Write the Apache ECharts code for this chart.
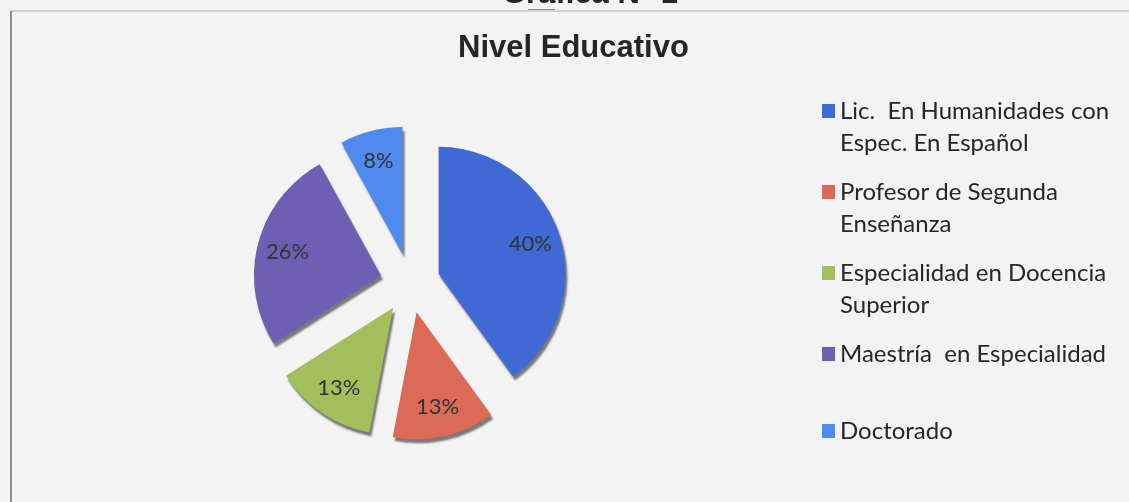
<!DOCTYPE html>
<html>
<head>
<meta charset="utf-8">
<script src="https://cdn.jsdelivr.net/npm/echarts@6/dist/echarts.min.js"></script>
<style>
  html, body { margin: 0; padding: 0; background: #f3f3f3; }
  #chart { width: 1129px; height: 502px; }
</style>
</head>
<body>
<div id="chart"></div>
<script>
// datos de la gráfica
const categorias = [
  'Lic.  En Humanidades con\nEspec. En Español',
  'Profesor de Segunda\nEnseñanza',
  'Especialidad en Docencia\nSuperior',
  'Maestría  en Especialidad',
  'Doctorado'
];
const porcentajes = [40, 13, 13, 26, 8];
const colores = ['#4169d6', '#dc6a56', '#a3bf5b', '#6e5fb4', '#4f8bef'];

const chart = echarts.init(document.getElementById('chart'));

const datosPie = categorias.map(function (n, i) {
  return { name: n, value: porcentajes[i], selected: true, itemStyle: { color: colores[i] } };
});
const datosEtiquetas = categorias.map(function (n, i) {
  return { name: n, value: porcentajes[i], selected: true };
});

const option = {
  backgroundColor: '#f3f3f3',
  animation: false,
  title: {
    text: 'Nivel Educativo',
    left: 458,
    top: 33,
    padding: 0,
    textStyle: {
      fontFamily: 'Liberation Sans',
      fontWeight: 'bold',
      fontSize: 31,
      color: '#262626'
    }
  },
  graphic: [
    {
      type: 'text',
      left: 502,
      top: -21,
      style: {
        text: 'Gráfica N° 1',
        font: 'bold 31px "Liberation Sans"',
        fill: '#262626'
      }
    },
    { type: 'line', shape: { x1: 10, y1: 11, x2: 1129, y2: 11 }, style: { stroke: '#d2d2d2', lineWidth: 2 } },
    { type: 'line', shape: { x1: 528, y1: 9.5, x2: 555, y2: 9.5 }, style: { stroke: '#8c8c8c', lineWidth: 1 } },
    { type: 'line', shape: { x1: 11, y1: 11, x2: 11, y2: 502 }, style: { stroke: '#8a8a8a', lineWidth: 2 } }
  ],
  legend: {
    orient: 'vertical',
    left: 822,
    top: 71,
    padding: 0,
    itemGap: -3,
    itemWidth: 13,
    itemHeight: 14,
    icon: 'rect',
    selectedMode: false,
    data: categorias,
    formatter: function (name) {
      return name.split('\n').map(function (s) { return '{n|' + s + '}'; }).join('\n');
    },
    textStyle: {
      height: 56,
      padding: [24, 0, 0, 0],
      backgroundColor: 'rgba(0,0,0,0)',
      rich: {
        n: { fontFamily: 'Lato', fontSize: 24, lineHeight: 32, color: '#262626' }
      }
    }
  },
  series: [
    {
      type: 'pie',
      center: [410, 283],
      radius: 127,
      startAngle: 90,
      clockwise: true,
      selectedMode: 'multiple',
      selectedOffset: 30,
      label: { show: false },
      labelLine: { show: false },
      emphasis: { disabled: true },
      itemStyle: {
        shadowBlur: 2,
        shadowOffsetX: 2,
        shadowOffsetY: 4,
        shadowColor: 'rgba(0,0,0,0.5)'
      },
      data: datosPie
    },
    {
      type: 'pie',
      center: [410, 283],
      radius: [60, 127],
      startAngle: 90,
      clockwise: true,
      silent: true,
      selectedMode: 'multiple',
      selectedOffset: 30,
      itemStyle: { color: 'rgba(0,0,0,0)' },
      labelLine: { show: false },
      emphasis: { disabled: true },
      label: {
        show: true,
        position: 'inside',
        formatter: '{c}%',
        fontFamily: 'Lato',
        fontSize: 22,
        color: '#333333'
      },
      data: datosEtiquetas
    }
  ]
};

chart.setOption(option);
</script>
</body>
</html>
